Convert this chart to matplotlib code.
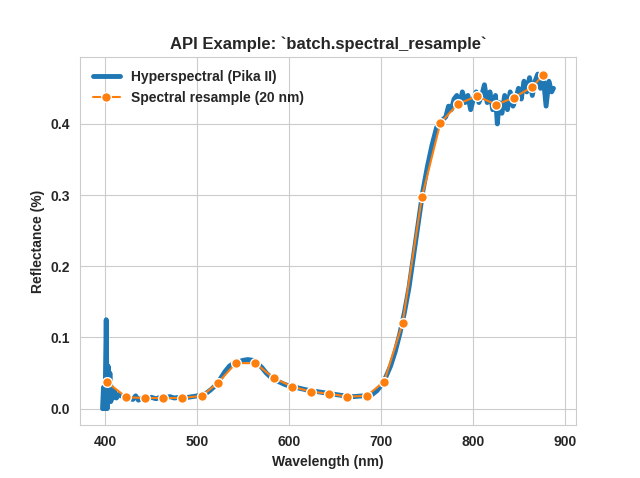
import matplotlib
matplotlib.use("Agg")
import matplotlib.pyplot as plt
import seaborn as sns

sns.set_style("whitegrid")
plt.rcParams['font.family'] = ['Liberation Sans', 'DejaVu Sans']
plt.rcParams['font.weight'] = 'bold'
plt.rcParams['axes.labelweight'] = 'bold'
plt.rcParams['axes.titleweight'] = 'bold'

hs_wl = [397,398,399,400,401,402,403,404,405,406,407,408,410,412,415,420,425,430,433,436,440,445,450,455,460,465,470,475,480,485,490,495,500,505,510,515,520,525,530,535,540,545,550,555,560,565,570,575,580,585,590,595,600,610,620,630,640,650,660,670,680,690,695,700,705,710,715,720,725,730,735,740,745,750,755,758,760,763,766,770,773,776,779,782,785,788,791,794,797,800,803,806,809,812,815,818,821,824,826,828,831,834,837,840,843,846,849,852,855,858,861,864,867,870,873,876,879,882,885,887]
hs_val = [0.0,0.03,0.0,0.03,0.125,0.0,0.06,0.01,0.05,0.01,0.03,0.015,0.025,0.015,0.02,0.016,0.015,0.013,0.018,0.012,0.015,0.013,0.016,0.014,0.016,0.015,0.017,0.015,0.016,0.015,0.016,0.017,0.018,0.02,0.022,0.027,0.033,0.042,0.052,0.06,0.064,0.066,0.068,0.069,0.068,0.064,0.058,0.05,0.044,0.04,0.037,0.034,0.032,0.029,0.026,0.024,0.022,0.02,0.018,0.017,0.018,0.02,0.025,0.033,0.045,0.06,0.08,0.105,0.135,0.17,0.215,0.26,0.305,0.34,0.37,0.385,0.395,0.40,0.405,0.41,0.425,0.42,0.435,0.44,0.425,0.445,0.43,0.44,0.42,0.435,0.445,0.43,0.44,0.455,0.43,0.445,0.42,0.44,0.4,0.43,0.415,0.44,0.42,0.445,0.425,0.435,0.45,0.435,0.46,0.445,0.465,0.44,0.46,0.47,0.45,0.465,0.425,0.46,0.445,0.45]

rs_wl = [402,423,443,463,483,505,522,542,563,583,603,623,643,663,684,703,723,744,764,783,804,825,844,864,876]
rs_val = [0.037,0.016,0.015,0.015,0.015,0.018,0.036,0.064,0.064,0.043,0.031,0.024,0.021,0.017,0.018,0.038,0.12,0.297,0.401,0.428,0.439,0.427,0.437,0.452,0.469]

fig, ax = plt.subplots(figsize=(6.4, 4.78), dpi=100)
ax.plot(hs_wl, hs_val, color='#1f77b4', lw=3.5, label='Hyperspectral (Pika II)')
ax.plot(rs_wl, rs_val, color='#ff7f0e', lw=1.5, marker='o', markersize=7,
        markeredgecolor='white', markeredgewidth=1, label='Spectral resample (20 nm)')
ax.set_xlabel('Wavelength (nm)')
ax.set_ylabel('Reflectance (%)')
ax.set_title('API Example: `batch.spectral_resample`', fontsize=12)
ax.legend(loc='upper left', frameon=False)
for s in ax.spines.values():
    s.set_color('#cccccc')
fig.savefig('out.png')
